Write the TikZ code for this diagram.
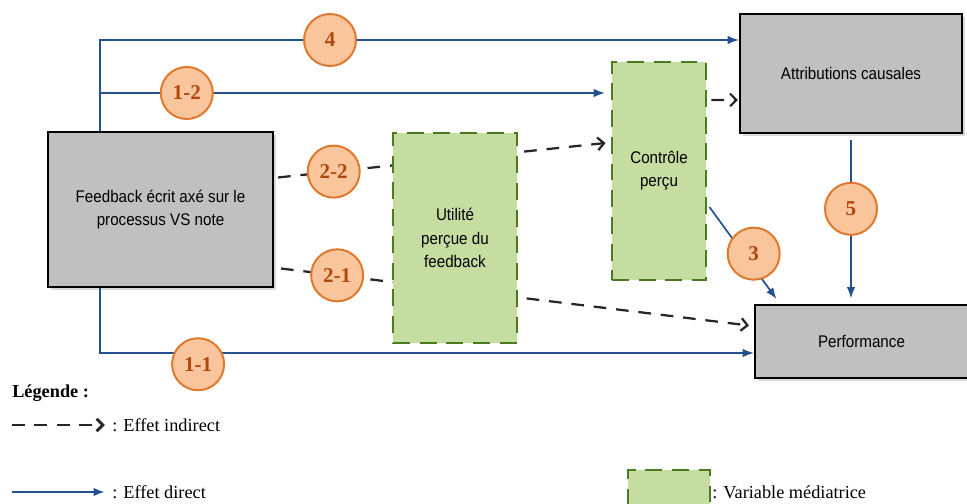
\documentclass[tikz,border=0pt]{standalone}
\usepackage{fontspec}
\setmainfont{Liberation Serif}
\newfontfamily\boxfont[FakeStretch=0.9]{Liberation Sans}
\usetikzlibrary{arrows.meta, shadows}
\definecolor{boxgray}{HTML}{C0C0C0}
\definecolor{medgreen}{HTML}{C5DDA0}
\definecolor{medborder}{HTML}{4B7A1F}
\definecolor{linkblue}{HTML}{24508F}
\definecolor{numfill}{HTML}{F9C59C}
\definecolor{numdraw}{HTML}{E0782C}
\definecolor{numtext}{HTML}{B0480E}
\begin{document}
\begin{tikzpicture}[x=0.025cm, y=-0.025cm,
  varbox/.style={draw=black, line width=1.4pt, fill=boxgray, align=center,
    font=\boxfont\fontsize{12}{17}\selectfont,
    drop shadow={shadow xshift=2pt, shadow yshift=-2pt, opacity=0.3}},
  medbox/.style={draw=medborder, line width=2pt, dash pattern=on 12pt off 7pt,
    fill=medgreen, align=center, font=\boxfont\fontsize{12}{16.5}\selectfont},
  num/.style={circle, solid, draw=numdraw, line width=1.4pt, fill=numfill, text=numtext,
    font=\bfseries\fontsize{15}{15}\selectfont, minimum size=37pt, inner sep=0pt},
  direct/.style={draw=linkblue, line width=1.2pt},
  indirect/.style={draw=black!85, line width=1.6pt, dash pattern=on 9pt off 7pt},
  dtip/.style={-{Latex[length=8pt,width=6pt]}},
  itip/.style={-{Straight Barb[length=4.5pt,width=9pt]}},
  legtext/.style={font=\fontsize{13}{15}\selectfont, anchor=west, inner sep=0pt}]
  \useasboundingbox (0,0) rectangle (967,504);
  % variables
  \node[varbox, minimum width=5.625cm, minimum height=3.875cm] (fb) at (160.5,209.5) {Feedback écrit axé sur le\\processus VS note};
  \node[varbox, minimum width=5.55cm, minimum height=2.975cm] (attr) at (851,73.5) {Attributions causales};
  \node[varbox, minimum width=5.325cm, minimum height=1.825cm] (perf) at (861.5,341.5) {Performance};
  \node[medbox, minimum width=2.35cm, minimum height=5.45cm] (ctrl) at (659,171) {Contrôle\\perçu};
  % direct effects
  \coordinate (t4) at (100,40);
  \coordinate (t12) at (100,93);
  \coordinate (b11) at (100,353);
  \draw[direct, dtip] (fb.north -| t4) -- (t4) -- node[num, pos=0.36] (c4) {4} (t4 -| attr.west);
  \draw[direct, dtip, shorten >=4pt] (t12) -- node[num, pos=0.17] (c12) {1-2} (t12 -| ctrl.west);
  \draw[direct, dtip] (fb.south -| b11) -- (b11) -- node[num, pos=0.15, yshift=-8pt] (c11) {1-1} (b11 -| perf.west);
  \draw[direct, dtip] ([shift={(2,36)}]ctrl.east) -- node[num, pos=0.66, yshift=10pt] (c3) {3} ([shift={(-85,-5)}]perf.north);
  \draw[direct, dtip, shorten <=4pt, shorten >=4pt] (attr.south) -- node[num, pos=0.44] (c5) {5} (attr.south |- perf.north);
  % indirect effects
  \draw[indirect, itip] ([shift={(4,-32)}]fb.east) -- node[num, pos=0.17] (c22) {2-2} ([shift={(-5,-28)}]ctrl.west);
  \draw[indirect, itip] ([shift={(7,59)}]fb.east) -- node[num, pos=0.12] (c21) {2-1} ([shift={(-5,-16)}]perf.west);
  \draw[indirect, itip] ([shift={(4,-71)}]ctrl.east) -- ([shift={(-1,26.5)}]attr.west);
  % mediator drawn over the dashed paths
  \node[medbox, minimum width=3.1cm, minimum height=5.25cm] (util) at (455,238) {Utilité\\perçue du\\feedback};
  % legend
  \node[legtext, font=\bfseries\fontsize{13}{15}\selectfont] (leg) at (12,393) {Légende :};
  \coordinate (li) at (12,425);
  \node[legtext] (lind) at (112,425) {: Effet indirect};
  \draw[indirect, line width=2pt, itip] (li) -- ([xshift=-5pt]lind.west);
  \coordinate (ld) at (12,492);
  \node[legtext] (ldir) at (112,492) {: Effet direct};
  \draw[direct, line width=1.6pt, dtip] (ld) -- ([xshift=-5pt]ldir.west);
  \fill[medgreen] (628,470) rectangle (710,506);
  \draw[medborder, line width=2pt, dash pattern=on 12pt off 7pt] (628,506) -- (628,470) -- (710,470) -- (710,506);
  \node[legtext] (lmed) at (712,492) {: Variable médiatrice};
\end{tikzpicture}
\end{document}
